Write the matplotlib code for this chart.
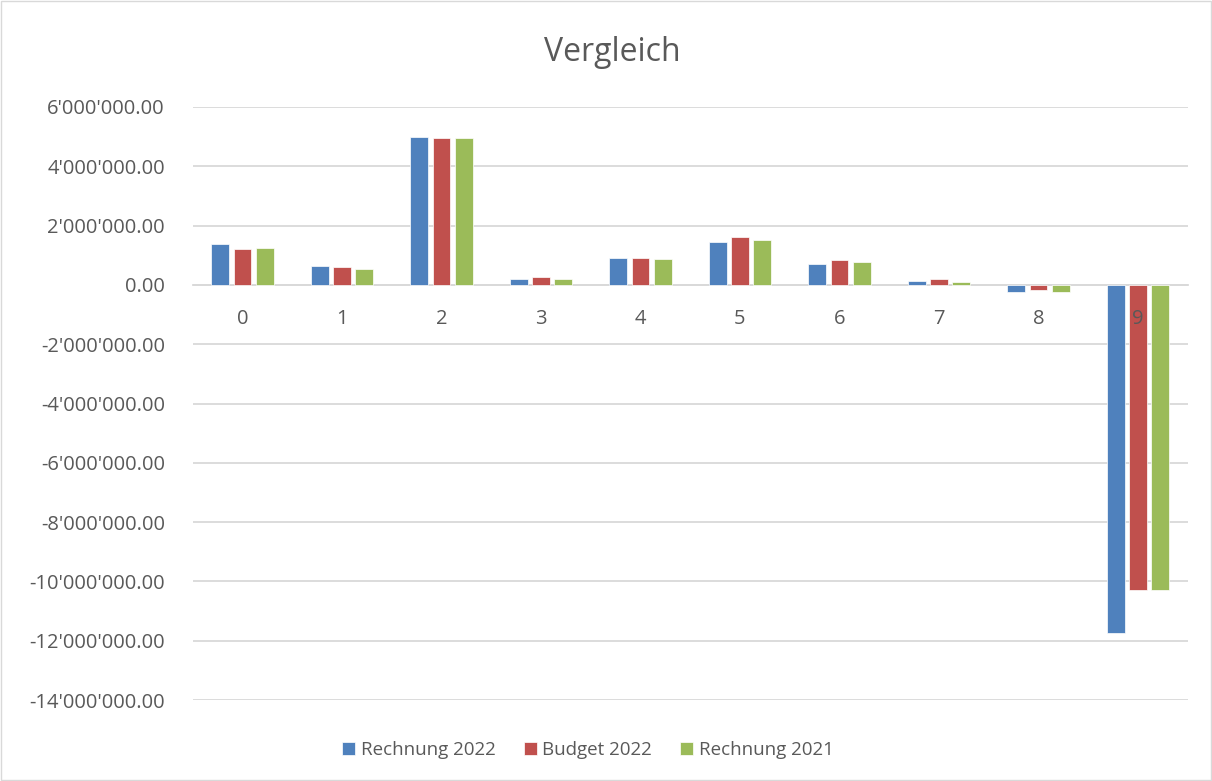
import numpy as np
import matplotlib; matplotlib.use("Agg")
import matplotlib.pyplot as plt
from matplotlib.ticker import FuncFormatter, MultipleLocator
from matplotlib.patches import Rectangle

plt.rcParams["font.family"] = ["Open Sans", "DejaVu Sans"]

categories = ["0", "1", "2", "3", "4", "5", "6", "7", "8", "9"]
rechnung_2022 = [1.37e6, 0.63e6, 4.98e6, 0.19e6, 0.90e6, 1.44e6, 0.70e6, 0.12e6, -0.25e6, -11.74e6]
budget_2022 = [1.20e6, 0.59e6, 4.96e6, 0.25e6, 0.90e6, 1.61e6, 0.84e6, 0.19e6, -0.16e6, -10.30e6]
rechnung_2021 = [1.25e6, 0.52e6, 4.94e6, 0.19e6, 0.88e6, 1.51e6, 0.77e6, 0.11e6, -0.25e6, -10.29e6]
series = [("Rechnung 2022", rechnung_2022, "#4F81BD"),
          ("Budget 2022", budget_2022, "#C0504D"),
          ("Rechnung 2021", rechnung_2021, "#9BBB59")]

txt = "#595959"
grid = "#d9d9d9"

fig = plt.figure(figsize=(12.12, 7.81), dpi=100)
ax = fig.add_axes([0.159, 0.1037, 0.821, 0.7593])
x = np.arange(len(categories))
for i, (name, vals, col) in enumerate(series):
    ax.bar(x + (i - 1) * 0.225, vals, width=0.18, color=col, label=name,
           edgecolor="white", linewidth=0.5, zorder=3)

ax.set_xlim(-0.5, len(categories) - 0.5)
ax.set_ylim(-14e6, 6e6)
ax.yaxis.set_major_locator(MultipleLocator(2e6))
ax.yaxis.set_major_formatter(FuncFormatter(lambda v, p: f"{v:,.2f}".replace(",", "'")))
ax.grid(axis="y", color=grid, linewidth=1.3, zorder=0)
for s in ("top", "right", "left"):
    ax.spines[s].set_visible(False)
ax.spines["bottom"].set_position(("data", 0))
ax.spines["bottom"].set_color(grid)
ax.spines["bottom"].set_linewidth(1.3)
ax.set_xticks(x)
ax.set_xticklabels(categories)
ax.xaxis.set_zorder(5)   # category labels sit on top of the bars, like Excel
ax.tick_params(axis="x", length=0, pad=17, labelsize=14.5, labelcolor=txt)
ax.tick_params(axis="y", length=0, pad=20, labelsize=14.5, labelcolor=txt)

fig.text(0.505, 0.933, "Vergleich", ha="center", va="center", fontsize=23, color=txt)
fig.legend(loc="center", bbox_to_anchor=(0.485, 0.04), ncol=3, frameon=False,
           fontsize=13.5, labelcolor=txt, handlelength=0.7, handleheight=0.7,
           handletextpad=0.3, columnspacing=1.5)
fig.add_artist(Rectangle((0.001, 0.001), 0.998, 0.998, transform=fig.transFigure,
                         fill=False, edgecolor=grid, linewidth=1))
fig.savefig("out.png", dpi=100)
